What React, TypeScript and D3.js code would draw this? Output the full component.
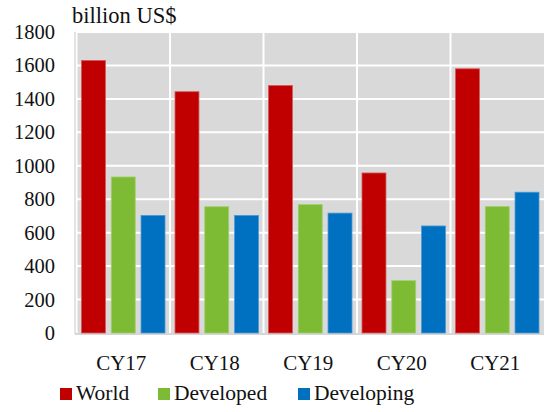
import React from "react";
import * as d3 from "d3";

const categories = ["CY17", "CY18", "CY19", "CY20", "CY21"];
const seriesNames = ["World", "Developed", "Developing"];
const world = [1630, 1443, 1480, 957, 1580];
const developed = [933, 755, 768, 313, 756];
const developing = [703, 703, 717, 640, 842];
const colors = ["#c00000", "#7cbb33", "#0070c0"];
const strokeColors = ["#d45a5a", "#a3cf6f", "#4d98d2"];
const yTicks = [0, 200, 400, 600, 800, 1000, 1200, 1400, 1600, 1800];

const W = 546;
const H = 412;
const PL = 76.5;
const PR = 544;
const PT = 32;
const PB = 333;
const FAMILY = '"Liberation Serif"';

// approximate Liberation Serif advance widths (em) for alignment without text-anchor
const CHAR_W: Record<string, number> = { C: 0.667, Y: 0.722 };
const textWidth = (s: string, size: number) =>
  s.split("").reduce((a, ch) => a + (CHAR_W[ch] ?? 0.5), 0) * size;

export default function App() {
  const x = d3.scaleBand<string>().domain(categories).range([PL, PR]).padding(0);
  const inner = d3
    .scaleBand<string>()
    .domain(seriesNames)
    .range([0, x.bandwidth()])
    .paddingInner(0.195)
    .paddingOuter(0.168);
  const y = d3.scaleLinear().domain([0, 1800]).range([PB, PT]);
  const data = [world, developed, developing];

  const txt = (props: any, content: string, k: string) => (
    <text key={k} fill="#111" style={{ fontFamily: FAMILY }} {...props}>
      {content}
    </text>
  );

  const tickSize = 20.5;
  const catSize = 21;

  return (
    <svg
      width={W}
      height={H}
      style={{ position: "absolute", left: 0, top: 0, display: "block", background: "#fff" }}
    >
      <rect x={PL} y={PT} width={PR - PL} height={PB - PT} fill="#d9d9d9" />
      {yTicks.slice(1).map((t) => (
        <line key={"h" + t} x1={PL} x2={PR} y1={y(t)} y2={y(t)} stroke="#fff" strokeWidth={2} />
      ))}
      {categories.map((c) => (
        <line key={"v" + c} x1={x(c)!} x2={x(c)!} y1={PT} y2={PB} stroke="#fff" strokeWidth={2} />
      ))}
      <line x1={PL - 1.5} x2={PL - 1.5} y1={PT} y2={PB + 1} stroke="#c8c8c8" strokeWidth={1} />
      <line x1={PL - 1.5} x2={PR} y1={PB + 1} y2={PB + 1} stroke="#c8c8c8" strokeWidth={1.5} />
      {categories.map((c, ci) =>
        seriesNames.map((s, si) => {
          const v = data[si][ci];
          const bx = x(c)! + inner(s)!;
          return (
            <rect
              key={c + s}
              x={bx}
              y={y(v)}
              width={inner.bandwidth()}
              height={y(0) - y(v)}
              fill={colors[si]}
              stroke={strokeColors[si]}
              strokeWidth={0.8}
            />
          );
        })
      )}
      {yTicks.map((t) =>
        txt({ x: 55 - textWidth(String(t), tickSize), y: y(t) + 7, fontSize: tickSize }, String(t), "t" + t)
      )}
      {txt({ x: 72, y: 23, fontSize: 22.5 }, "billion US$", "title")}
      {categories.map((c) =>
        txt(
          { x: x(c)! + x.bandwidth() / 2 - 2 - textWidth(c, catSize) / 2, y: 370, fontSize: catSize },
          c,
          "c" + c
        )
      )}
      {seriesNames.map((s, i) => {
        const lx = [60, 158, 298][i];
        return (
          <g key={"l" + s}>
            <rect x={lx} y={388} width={12} height={12} fill={colors[i]} />
            {txt({ x: lx + 16, y: 400, fontSize: 21.5 }, s, "lt" + s)}
          </g>
        );
      })}
    </svg>
  );
}
